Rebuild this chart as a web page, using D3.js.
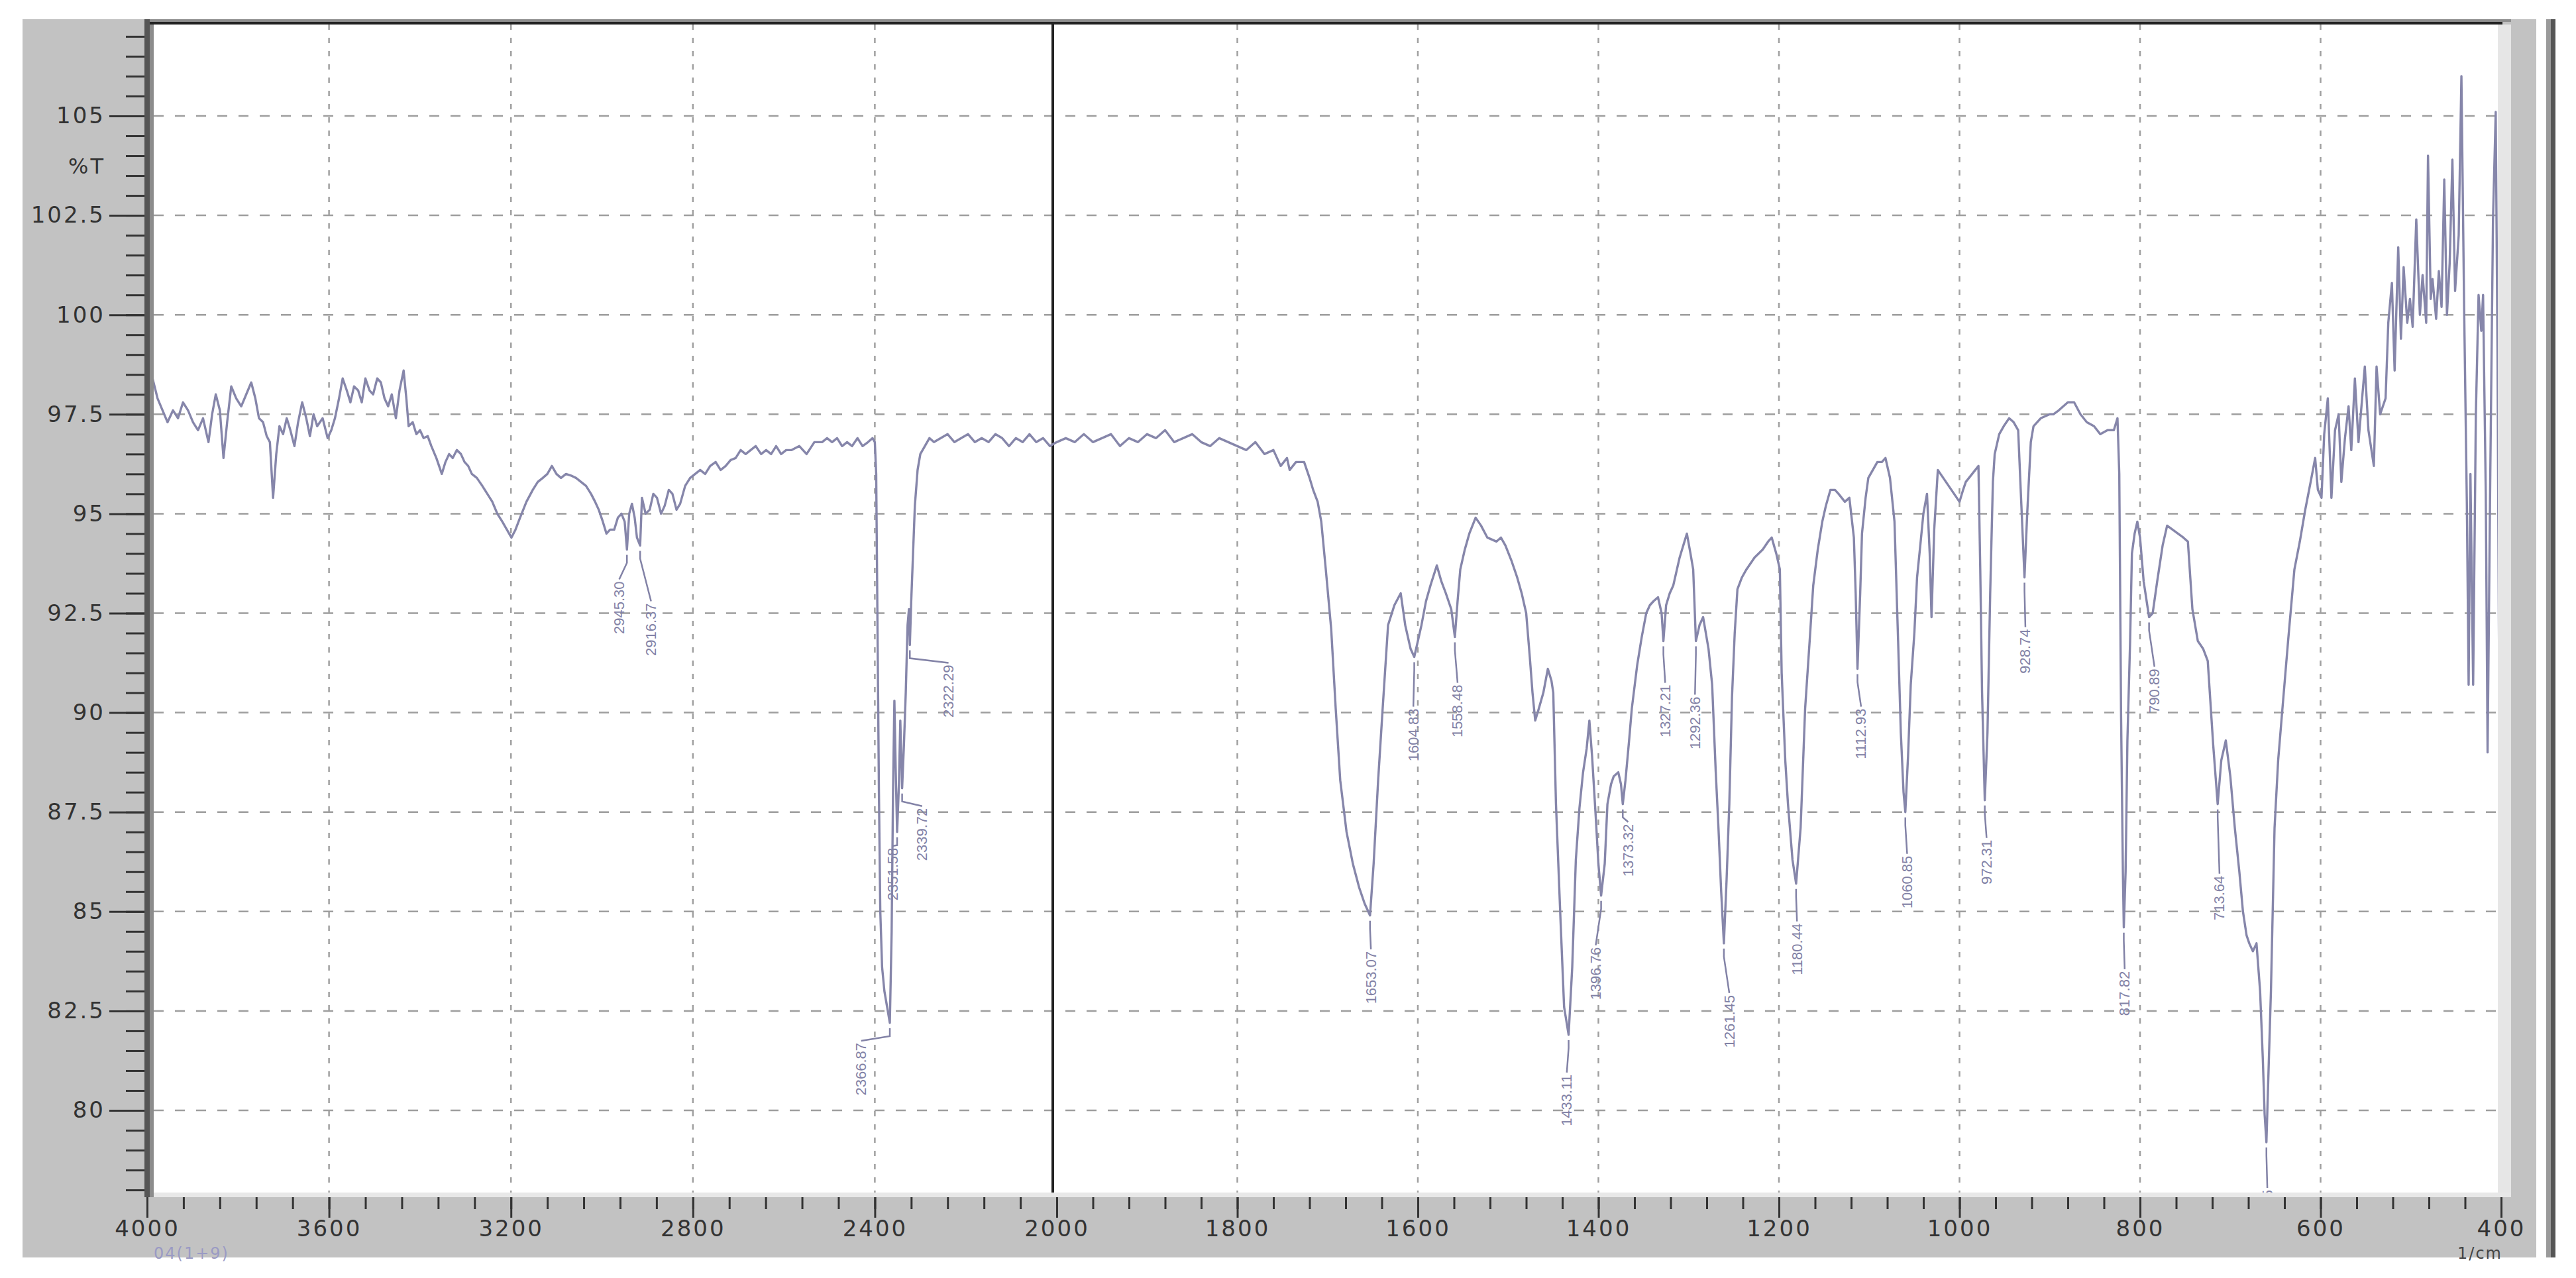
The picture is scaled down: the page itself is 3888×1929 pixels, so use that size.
<!DOCTYPE html>
<html><head><meta charset="utf-8">
<script src="https://cdn.jsdelivr.net/npm/d3@7"></script>
<style>
html,body{margin:0;padding:0;background:#fff;}
svg{display:block;}
</style></head><body>
<svg id="chart" width="3888" height="1929"></svg>
<script>
// ---------------- DATA ----------------
const wavenumber = [
4000,3988,3977,3966,3955,3943,3932,3921,3910,3899,3888,3877,3865,3857,3849,3840,3832,3824,3815,3804,
3793,3782,3771,3762,3754,3745,3737,3730,3723,3716,3709,3701,3693,3685,3676,3668,3659,3650,3642,3634,
3626,3614,3603,3595,3587,3578,3570,3561,3553,3545,3536,3528,3520,3511,3503,3494,3486,3478,3470,3462,
3453,3445,3436,3430,3425,3416,3408,3400,3392,3383,3375,3364,3352,3344,3336,3328,3319,3310,3302,3294,
3286,3275,3263,3252,3241,3230,3219,3209,3199,3190,3180,3166,3152,3141,3130,3120,3110,3100,3090,3079,
3068,3057,3046,3035,3024,3015,3007,2998,2990,2982,2973,2965,2957,2950,2945,2940,2934,2928,2923,2916,
2912,2904,2895,2887,2879,2870,2862,2853,2845,2836,2828,2817,2806,2795,2784,2773,2762,2750,2739,2728,
2717,2706,2695,2684,2673,2662,2650,2639,2628,2617,2606,2595,2583,2566,2550,2533,2516,2505,2494,2483,
2472,2461,2450,2438,2427,2415,2405,2400,
2397,2394,2391,2388,2384,2379,2373,2367,2363,2360,2357,2354,2351,2347,2344,2340,2336,2332,2328,2325,
2323,2320,2316,2312,2306,2300,
2290,2280,2270,2255,2240,2225,2210,2195,2180,2165,2150,2135,2120,2105,2090,2075,2060,2045,2030,2015,2000,
1990,1980,1970,1960,1950,1940,1930,1920,1910,1900,1890,1880,1870,1860,1850,1840,1830,1820,1810,1800,
1790,1780,1770,1760,1752,1745,1742,1735,1726,1720,1716,1711,1707,1702,1696,1691,1686,1679,1672,1665,
1659,1653,1649,1644,1639,1633,1626,1619,1614,1608,1604,1600,1596,1591,1586,1579,1574,1569,1563,1559,
1556,1553,1548,1543,1536,1530,1523,1513,1508,1503,1496,1490,1485,1480,1476,1473,1470,1466,1461,1456,
1452,1450,1447,1442,1438,1433,1429,1425,1421,1417,1413,1410,1407,1403,1400,1397,1393,1390,1386,1383,
1378,1375,1373,1370,1366,1363,1357,1352,1347,1343,1339,1334,1330,1328,1325,1321,1317,1310,1306,1302,
1298,1295,1292,1288,1284,1281,1278,1274,1270,1267,1264,1261,1258,1255,1252,1249,1246,1241,1236,1227,
1218,1212,1208,1203,1199,1197,1193,1190,1185,1181,1176,1171,1166,1162,1157,1152,1148,1143,1138,1134,
1127,1122,1117,1115,1113,1110,1108,1104,1101,1096,1091,1086,1082,1077,1072,1068,1065,1062,1060,1057,
1054,1050,1047,1043,1040,1036,1033,1031,1028,1024,1018,1012,1006,1000,996,993,986,979,977,975,
972,969,966,963,961,956,951,945,940,935,932,928,925,921,918,910,900,896,890,885,
880,873,866,859,851,844,836,829,825,823,821,819,818,816,814,811,809,806,803,800,
796,790,786,781,775,770,764,758,752,747,742,736,730,725,719,714,710,705,700,695,
690,686,682,679,675,671,667,664,662,660,657,655,651,647,643,636,629,623,617,611,
606,603,599,596,592,588,584,580,577,573,569,566,562,558,554,551,547,541,538,534,
528,525,521,518,514,511,508,504,501,498,494,490,487,483,481,478,476,472,469,466,
463,460,457,454,451,447,444,441,438,436,434,431,428,425,422,420,417,415,412,409,
406,404,402,400
];
const transmittance = [
98.5,98.4,97.9,97.6,97.3,97.6,97.4,97.8,97.6,97.3,97.1,97.4,96.8,97.5,98.0,97.6,96.4,97.3,98.2,97.9,
97.7,98.0,98.3,97.9,97.4,97.3,96.95,96.8,95.4,96.5,97.2,97.0,97.4,97.1,96.7,97.3,97.8,97.4,96.95,97.5,
97.2,97.4,96.9,97.1,97.4,97.9,98.4,98.1,97.8,98.2,98.1,97.8,98.4,98.1,98.0,98.4,98.3,97.9,97.7,98.0,
97.4,98.1,98.6,97.9,97.2,97.3,97.0,97.1,96.9,96.95,96.7,96.4,96.0,96.3,96.5,96.4,96.6,96.5,96.3,96.2,
96.0,95.9,95.7,95.5,95.3,95.0,94.8,94.6,94.4,94.6,94.9,95.3,95.6,95.8,95.9,96.0,96.2,96.0,95.9,96.0,
95.96,95.9,95.8,95.7,95.5,95.3,95.1,94.8,94.5,94.6,94.6,94.9,95.0,94.8,94.1,95.0,95.25,94.9,94.4,94.2,
95.4,95.0,95.1,95.5,95.4,95.0,95.2,95.6,95.5,95.1,95.25,95.7,95.9,96.0,96.1,96.0,96.2,96.3,96.1,96.2,
96.35,96.4,96.6,96.5,96.6,96.7,96.5,96.6,96.5,96.7,96.5,96.6,96.6,96.7,96.5,96.8,96.8,96.9,96.8,96.9,
96.7,96.8,96.7,96.9,96.7,96.8,96.9,96.8,
96.0,92.0,88.0,85.0,83.6,83.0,82.6,82.2,84.5,88.0,90.3,88.5,87.0,88.2,89.8,88.1,89.2,90.5,92.2,92.6,
91.7,92.8,94.0,95.2,96.1,96.5,
96.7,96.9,96.8,96.9,97.0,96.8,96.9,97.0,96.8,96.9,96.8,97.0,96.9,96.7,96.9,96.8,97.0,96.8,96.9,96.7,96.8,
96.9,96.8,97.0,96.8,96.9,97.0,96.7,96.9,96.8,97.0,96.9,97.1,96.8,96.9,97.0,96.8,96.7,96.9,96.8,96.7,
96.6,96.8,96.5,96.6,96.2,96.4,96.1,96.3,96.3,95.9,95.6,95.3,94.8,93.6,92.1,90.1,88.3,87.0,86.2,85.6,
85.2,84.9,86.2,88.3,90.1,92.2,92.7,93.0,92.2,91.6,91.4,91.8,92.2,92.8,93.2,93.7,93.3,93.0,92.6,91.9,
92.8,93.6,94.1,94.5,94.9,94.7,94.4,94.3,94.4,94.2,93.8,93.4,93.0,92.5,91.4,90.5,89.8,90.1,90.5,91.1,
90.8,90.5,87.7,84.8,82.6,81.9,83.6,86.3,87.6,88.5,89.1,89.8,88.9,87.4,86.2,85.4,86.2,87.7,88.2,88.4,
88.5,88.2,87.7,88.3,89.3,90.1,91.2,91.9,92.5,92.7,92.8,92.9,92.5,91.8,92.7,93.0,93.2,93.9,94.2,94.5,
94.0,93.6,91.8,92.2,92.4,92.0,91.6,90.7,88.5,87.1,85.5,84.2,85.8,87.7,90.4,92.0,93.1,93.4,93.6,93.9,
94.1,94.3,94.4,94.0,93.6,91.0,88.8,87.7,86.3,85.7,87.1,90.1,91.8,93.2,94.1,94.8,95.2,95.6,95.6,95.5,
95.3,95.4,94.4,93.0,91.1,93.0,94.5,95.4,95.9,96.1,96.3,96.3,96.4,95.9,94.8,91.8,89.5,88.0,87.5,88.9,
90.7,92.0,93.4,94.3,95.0,95.5,94.0,92.4,94.6,96.1,95.9,95.7,95.5,95.3,95.6,95.8,96.0,96.2,93.6,90.5,
87.8,89.5,93.0,95.8,96.5,97.0,97.2,97.4,97.3,97.1,95.5,93.4,95.0,96.8,97.2,97.4,97.5,97.5,97.6,97.7,
97.8,97.8,97.5,97.3,97.2,97.0,97.1,97.1,97.4,96.0,89.9,86.0,84.6,86.0,89.3,91.8,94.0,94.5,94.8,94.4,
93.3,92.4,92.5,93.3,94.2,94.7,94.6,94.5,94.4,94.3,92.6,91.8,91.6,91.3,89.2,87.7,88.8,89.3,88.4,87.1,
86.0,85.0,84.4,84.2,84.0,84.2,83.0,81.3,79.9,79.2,81.5,83.0,87.1,88.8,89.9,91.8,93.6,94.3,95.1,95.8,
96.4,95.6,95.4,97.0,97.9,95.4,97.1,97.5,95.8,96.9,97.7,96.6,98.4,96.8,97.9,98.7,97.1,96.2,98.7,97.5,
97.9,99.8,100.8,98.6,101.7,99.4,101.2,99.8,100.4,99.7,102.4,100.0,101.0,99.8,104.0,100.4,100.9,99.9,101.1,100.2,
103.4,100.0,101.3,103.9,100.6,102.0,106.0,100.2,95.3,90.7,96.0,90.7,97.5,100.5,99.6,100.5,95.5,89.0,96.0,102.4,
105.1,99.0,89.9,95.0
];
const xTickValues = [4000,3600,3200,2800,2400,2000,1800,1600,1400,1200,1000,800,600,400];
const xTickLabels = ["4000","3600","3200","2800","2400","2000","1800","1600","1400","1200","1000","800","600","400"];
const yTickValues = [105,102.5,100,97.5,95,92.5,90,87.5,85,82.5,80];
const yTickLabels = ["105","102.5","100","97.5","95","92.5","90","87.5","85","82.5","80"];
const peakText = ["2945.30","2916.37","2366.87","2351.58","2339.72","2322.29","1653.07","1604.83","1558.48","1433.11",
  "1396.76","1373.32","1327.21","1292.36","1261.45","1180.44","1112.93","1060.85","972.31","928.74","817.82","790.89","713.64","659.55"];
const peakWavenumber = [2945,2916,2367,2351,2340,2323,1653,1604,1559,1433,1397,1373,1328,1292,1261,1181,1113,1060,972,928,818,790,714,660];
const peakTransmittance = [94.1,94.2,82.2,87.0,88.1,91.7,84.9,91.4,91.9,81.9,85.4,87.7,91.8,91.8,84.2,85.7,91.1,87.5,87.8,93.4,84.6,92.4,87.7,79.2];
const labelWavenumber = [2962,2892,2430,2360,2296,2238,1652,1605,1556,1435,1403,1367,1326,1293,1255,1180,1109,1058,970,927,817,784,712,659];
const labelTopTransmittance = [93.3,92.75,81.7,86.6,87.6,91.2,84.0,90.1,90.7,80.9,84.1,87.2,90.7,90.4,82.9,84.7,90.1,86.4,86.8,92.1,83.5,91.1,85.9,78.0];
const sampleName = "04(1+9)";
const yUnitLabel = "%T";
const xUnitLabel = "1/cm";

// ---------------- LAYOUT ----------------
const svg = d3.select("#chart");
const P = {left:232, right:3770, top:37, bottom:1800};
const x = d3.scaleLinear().domain([4000,2000,400]).range([222,1595,3775]);
const y = d3.scaleLinear().domain([80,105]).range([1676,175]);
const axisFont = "'DejaVu Sans', sans-serif";

// panel
svg.append("rect").attr("x",34).attr("y",29).attr("width",3794).attr("height",1869).attr("fill","#c2c2c2");
svg.append("rect").attr("x",3843).attr("y",29).attr("width",7).attr("height",1869).attr("fill","#9a9a9a");
svg.append("rect").attr("x",3850).attr("y",29).attr("width",7).attr("height",1869).attr("fill","#555");
// plot area
svg.append("rect").attr("x",P.left).attr("y",P.top).attr("width",P.right-P.left).attr("height",P.bottom-P.top).attr("fill","#fff");
svg.append("rect").attr("x",P.right).attr("y",P.top).attr("width",20).attr("height",P.bottom-P.top+7).attr("fill","#e6e6e6");
svg.append("rect").attr("x",226).attr("y",P.bottom).attr("width",3790-226).attr("height",7).attr("fill","#e8e8e8");
svg.append("rect").attr("x",218).attr("y",29).attr("width",3790-218).attr("height",4).attr("fill","#8e8e8e");
svg.append("rect").attr("x",218).attr("y",33).attr("width",3777-218).attr("height",4).attr("fill","#222");
svg.append("rect").attr("x",218).attr("y",29).attr("width",8).attr("height",1778).attr("fill","#555");
svg.append("rect").attr("x",226).attr("y",37).attr("width",6).attr("height",1770).attr("fill","#8c8c8c");

svg.append("defs").append("clipPath").attr("id","plotclip")
  .append("rect").attr("x",P.left).attr("y",P.top).attr("width",P.right-P.left).attr("height",P.bottom-P.top);
const plot = svg.append("g").attr("clip-path","url(#plotclip)");

// grid
plot.append("g").selectAll("line").data(yTickValues).join("line")
  .attr("x1",P.left).attr("x2",P.right).attr("y1",d=>y(d)).attr("y2",d=>y(d))
  .attr("stroke","#9e9e9e").attr("stroke-width",2.5).attr("stroke-dasharray","15,17");
plot.append("g").selectAll("line").data(xTickValues.filter(d=>d!==2000)).join("line")
  .attr("x1",d=>x(d)).attr("x2",d=>x(d)).attr("y1",P.top).attr("y2",P.bottom)
  .attr("stroke","#a0a0a0").attr("stroke-width",2.5).attr("stroke-dasharray","8,12");
plot.append("line").attr("x1",x(2000)-6).attr("x2",x(2000)-6).attr("y1",P.top).attr("y2",P.bottom)
  .attr("stroke","#222").attr("stroke-width",4);

// spectrum
const pts = wavenumber.map((w,i)=>[w,transmittance[i]]);
plot.append("path").datum(pts)
  .attr("d", d3.line().x(d=>x(d[0])).y(d=>y(d[1])))
  .attr("fill","none").attr("stroke","#8686aa").attr("stroke-width",3.4).attr("stroke-linejoin","round");

// peak labels
const lblColor = "#8282a6";
const peaks = peakText.map((t,i)=>({t, w:peakWavenumber[i], v:peakTransmittance[i], lw:labelWavenumber[i], lv:labelTopTransmittance[i]}));
plot.append("g").selectAll("path").data(peaks).join("path")
  .attr("d", d=>{
    const x0=x(d.w), y0=y(d.v)+8, x1=x(d.lw), y1=y(d.lv)-3;
    return `M${x0},${y0}L${x0},${Math.min(y0+12,y1)}L${x1},${y1}`;
  })
  .attr("fill","none").attr("stroke",lblColor).attr("stroke-width",2.5);
plot.append("g").selectAll("text").data(peaks).join("text")
  .attr("transform", d=>`translate(${x(d.lw)},${y(d.lv)}) rotate(-90)`)
  .attr("text-anchor","end").attr("dominant-baseline","central")
  .attr("font-family","'Liberation Sans', Arial, sans-serif").attr("font-size",22)
  .attr("fill",lblColor).text(d=>d.t);

// axes
function styleAxis(g){
  g.select(".domain").remove();
  g.selectAll(".tick line").attr("stroke","#333").attr("stroke-width",3);
  g.selectAll(".tick text").attr("fill","#333").attr("font-family",axisFont).attr("font-size",34).attr("letter-spacing","3px");
}
const yMinor = d3.range(78, 107.5, 0.5);
svg.append("g").attr("transform","translate(218,0)")
  .call(d3.axisLeft(y).tickValues(yMinor).tickSize(28).tickFormat(""))
  .call(styleAxis);
svg.append("g").attr("transform","translate(218,0)")
  .call(d3.axisLeft(y).tickValues(yTickValues).tickSize(53).tickPadding(6).tickFormat((d,i)=>yTickLabels[i]))
  .call(styleAxis);
svg.append("text").attr("x",159).attr("y",251).attr("text-anchor","end").attr("dominant-baseline","central")
  .attr("font-family",axisFont).attr("font-size",32).attr("letter-spacing","3px").attr("fill","#333").text(yUnitLabel);

const xMinor = d3.range(4000, 2000, -80).concat(d3.range(2000, 399, -40));
svg.append("g").attr("transform",`translate(0,${P.bottom+7})`)
  .call(d3.axisBottom(x).tickValues(xMinor).tickSize(18).tickFormat(""))
  .call(styleAxis);
svg.append("g").attr("transform",`translate(0,${P.bottom+7})`)
  .call(d3.axisBottom(x).tickValues(xTickValues).tickSize(31).tickPadding(4).tickFormat((d,i)=>xTickLabels[i]))
  .call(styleAxis);

svg.append("text").attr("x",3777).attr("y",1900).attr("text-anchor","end")
  .attr("font-family",axisFont).attr("font-size",24).attr("letter-spacing","2px").attr("fill","#444").text(xUnitLabel);
svg.append("text").attr("x",232).attr("y",1900)
  .attr("font-family",axisFont).attr("font-size",24).attr("letter-spacing","2px").attr("fill","#9a9ac4").text(sampleName);
</script>
</body></html>
